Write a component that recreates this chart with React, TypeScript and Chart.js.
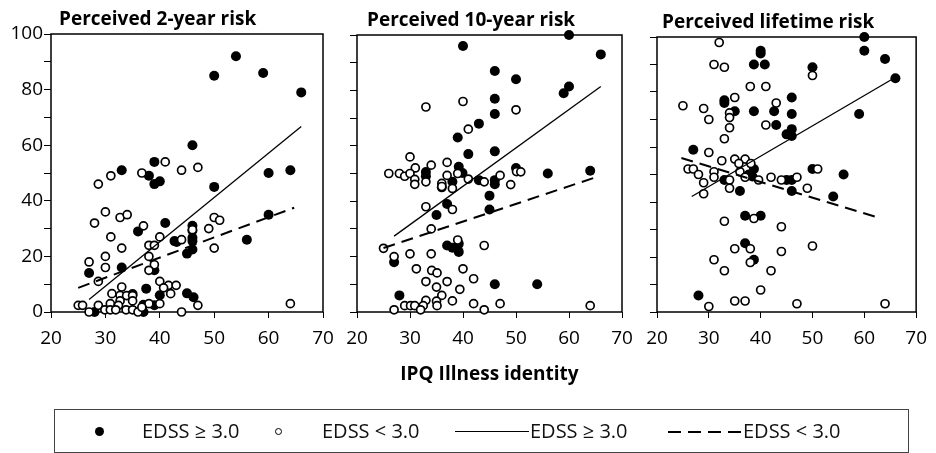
import React, { useEffect, useRef } from 'react';
import { Chart, registerables } from 'chart.js';

Chart.register(...registerables);

const W = 936;
const H = 453;
const FONT = '"Open Sans", "DejaVu Sans", sans-serif';

type Pt = [number, number];

// ---------- text ----------
const panelTitles = ['Perceived 2-year risk', 'Perceived 10-year risk', 'Perceived lifetime risk'];
const xAxisTitle = 'IPQ Illness identity';
const legendLabels = ['EDSS \u2265 3.0', 'EDSS < 3.0', 'EDSS \u2265 3.0', 'EDSS < 3.0'];

// ---------- axes ----------
const xMin = 20;
const xMax = 70;
const xStep = 10;
const yMin = 0;
const yMax = 100;
const yStep = 10;
const yLabelStep = 20;

// ---------- Panel 1: perceived 2-year risk ----------
const risk2yHigh: Pt[] = [
  [54, 92], [50, 85], [59, 86], [66, 79], [46, 60], [33, 51], [39, 54], [38, 49], [39, 46], [40, 47],
  [60, 50], [64, 51], [50, 45], [60, 35], [56, 26], [41, 32], [36, 29], [46, 31], [46, 29.3], [46, 26.7],
  [46, 25.5], [46, 22.5], [42.7, 25.5], [43.1, 25.2], [45, 21], [33, 16], [27, 14], [39, 15], [37.5, 8.4],
  [35, 6.5], [40, 6], [45, 6.7], [46.2, 5.3], [28, 0], [37, 2.6], [37, 0], [39, 2.4],
];
const risk2yLow: Pt[] = [
  [41, 54], [36.7, 50], [44, 51], [47, 52], [31, 49], [28.7, 46], [30, 36], [28, 32], [32.7, 34], [34, 35],
  [50, 34], [51, 33], [37, 31], [49, 30], [46, 29.6], [31, 27], [40, 27], [44, 26], [33, 23], [38, 24],
  [39, 24], [50, 23], [30, 20], [38, 20], [27, 18], [30, 16], [39, 17], [38, 15], [28.7, 11], [40, 11],
  [33, 9], [41.6, 9.6], [43, 9.6], [40.7, 8.7], [31.2, 6.6], [32.7, 6], [42, 6.6], [33.9, 5.9], [35, 5.9],
  [32.7, 4], [35, 4], [25, 2.4], [25.8, 2.4], [28.7, 2.4], [30.9, 3], [32.4, 2.4], [29.9, 0.8], [30.9, 0.8],
  [31.9, 0.8], [27, 0], [33.8, 0.8], [35, 0.8], [36, 0], [38, 3], [40, 3], [36.7, 1.7], [44, 0], [47, 2.4],
  [64, 3],
];
const risk2yFitHigh: Pt[] = [[27, 4.5], [66, 66.7]];
const risk2yFitLow: Pt[] = [[25, 8.7], [64.7, 37.5]];

// ---------- Panel 2: perceived 10-year risk ----------
const risk10yHigh: Pt[] = [
  [60, 100], [40, 96], [66, 93], [46, 87], [50, 84], [60, 81.4], [59, 79], [46, 77], [46, 71.5], [43, 68],
  [39, 63], [41, 57], [46, 58], [50, 52], [39.2, 52.4], [39.9, 50.2], [33, 50.5], [33, 49], [56, 50], [64, 51],
  [43, 47.6], [46, 47.6], [46, 46.1], [38, 47], [36, 45], [45, 42], [37, 39], [45, 37], [35, 35], [37, 24],
  [38, 23.2], [38.8, 23.2], [39.2, 24.6], [39.2, 21.7], [27, 18], [46, 10], [54, 10], [28, 6],
];
const risk10yLow: Pt[] = [
  [33, 74], [40, 76], [50, 73], [41, 66], [30, 56], [31, 52], [34, 53], [37, 54], [26, 50], [28, 50],
  [29, 49], [30, 50], [30.9, 47.9], [30.9, 46.1], [33, 47], [37, 49.3], [36, 46.4], [36, 45.3], [38, 44.6],
  [39, 50], [41, 48], [44, 47], [47, 49.3], [49, 46], [50.1, 50.7], [50.9, 50.6], [33, 38], [38, 37], [34, 30],
  [25, 23], [39, 26], [44, 24], [27, 20], [30, 21], [34, 21], [31.2, 15.6], [34.1, 15], [35.1, 14.1],
  [40, 15.6], [33, 11], [37, 11], [42, 12], [35, 9], [39.4, 8.2], [36, 6], [33, 4.2], [35, 3.9], [38, 4],
  [42, 3], [47, 3], [29, 2.3], [30.1, 2.3], [30.9, 2.3], [32.5, 2.3], [35.1, 2.3], [27, 0.8], [32, 0.8],
  [44, 0.8], [64, 2.3],
];
const risk10yFitHigh: Pt[] = [[27, 27.4], [66, 81.4]];
const risk10yFitLow: Pt[] = [[25, 23.1], [65, 48.6]];

// ---------- Panel 3: perceived lifetime risk ----------
const riskLifeHigh: Pt[] = [
  [60, 100], [60, 95], [64, 92], [66, 85], [40, 95], [40, 94], [38.7, 90], [40.8, 90], [50, 89], [33, 77],
  [33, 76], [35, 73], [38.7, 73], [42.6, 73], [46, 78], [46, 72], [43, 68], [46, 66.5], [46, 64], [45, 64.6],
  [59, 72], [27, 59], [38.7, 52], [37.7, 50], [38.4, 49.3], [50, 52], [56, 50], [33, 48], [45, 48], [46, 48],
  [46, 44], [36, 44], [54, 42], [37, 35], [40, 35], [37, 25], [38.7, 19], [28, 6],
];
const riskLifeLow: Pt[] = [
  [32, 98], [31, 90], [33, 89], [50, 86], [38, 82], [41, 82], [35, 78], [43, 76], [25, 75], [29, 74],
  [34, 72.4], [34, 70.7], [34, 67], [30, 70], [41, 68], [33, 63], [30, 58], [32.5, 55], [35, 55.6], [37, 55.6],
  [35.8, 54], [38.1, 54], [26, 52], [27, 52], [28, 50], [29, 47], [31, 51], [31, 49], [34, 48], [34, 45],
  [36, 51], [37, 49], [39.6, 48], [42, 49], [44, 48], [47, 49], [49, 45], [51, 52], [29, 43], [33, 33],
  [38.7, 34], [44, 31], [35, 23], [38, 23], [44, 22], [50, 24], [31, 19], [38, 18], [33, 15], [42, 15],
  [40, 8], [30, 2], [35, 4], [37, 4], [47, 3], [64, 3],
];
const riskLifeFitHigh: Pt[] = [[26.7, 42], [65.7, 85]];
const riskLifeFitLow: Pt[] = [[24.7, 56], [63.1, 34.1]];

// ---------- layout (pixels) ----------
type PanelCfg = {
  title: string;
  high: Pt[];
  low: Pt[];
  fitHigh: Pt[];
  fitLow: Pt[];
  showYLabels: boolean;
  showXTitle: boolean;
  area: { left: number; right: number; top: number; bottom: number };
  titleDx: number;
  titleBaseline: number;
};

const panels: PanelCfg[] = [
  {
    title: panelTitles[0], high: risk2yHigh, low: risk2yLow, fitHigh: risk2yFitHigh, fitLow: risk2yFitLow,
    showYLabels: true, showXTitle: false,
    area: { left: 51, right: 323, top: 34, bottom: 312 }, titleDx: 8, titleBaseline: 25,
  },
  {
    title: panelTitles[1], high: risk10yHigh, low: risk10yLow, fitHigh: risk10yFitHigh, fitLow: risk10yFitLow,
    showYLabels: false, showXTitle: true,
    area: { left: 357, right: 622, top: 35, bottom: 312 }, titleDx: 10, titleBaseline: 26,
  },
  {
    title: panelTitles[2], high: riskLifeHigh, low: riskLifeLow, fitHigh: riskLifeFitHigh, fitLow: riskLifeFitLow,
    showYLabels: false, showXTitle: false,
    area: { left: 657, right: 922, top: 37, bottom: 312 }, titleDx: 5, titleBaseline: 28,
  },
];

const toXY = (p: Pt[]) => p.map(([x, y]) => ({ x, y }));

function Panel({ cfg }: { cfg: PanelCfg }) {
  const ref = useRef<HTMLCanvasElement>(null);
  useEffect(() => {
    const canvas = ref.current;
    if (!canvas) return;
    const a = cfg.area;
    const WY = cfg.showYLabels ? 45 : 10;
    const HX = 80;

    const boxPlugin = {
      id: 'panelBox',
      beforeDatasetsDraw(chart: any) {
        const { ctx, chartArea: ca } = chart;
        ctx.save();
        ctx.strokeStyle = '#000';
        ctx.lineWidth = 1.5;
        ctx.strokeRect(ca.left, ca.top, ca.right - ca.left, ca.bottom - ca.top);
        ctx.restore();
      },
    };
    const titlePlugin = {
      id: 'panelTitle',
      afterDraw(chart: any) {
        const { ctx, chartArea: ca } = chart;
        ctx.save();
        ctx.font = `bold 19px ${FONT}`;
        ctx.fillStyle = '#000';
        ctx.textAlign = 'left';
        ctx.textBaseline = 'alphabetic';
        ctx.fillText(cfg.title, ca.left + cfg.titleDx, cfg.titleBaseline);
        ctx.restore();
      },
    };

    const chart = new Chart(canvas, {
      type: 'scatter',
      data: {
        datasets: [
          {
            type: 'line', label: 'EDSS \u2265 3.0 (fit)', data: toXY(cfg.fitHigh),
            borderColor: '#000', borderWidth: 1.3, pointRadius: 0, fill: false, clip: false,
          } as any,
          {
            type: 'line', label: 'EDSS < 3.0 (fit)', data: toXY(cfg.fitLow),
            borderColor: '#000', borderWidth: 2, borderDash: [12, 7], pointRadius: 0, fill: false, clip: false,
          } as any,
          {
            label: legendLabels[1], data: toXY(cfg.low),
            pointRadius: 4, pointBorderWidth: 1.7, pointBackgroundColor: '#fff', pointBorderColor: '#000',
            backgroundColor: '#fff', borderColor: '#000', clip: false,
          } as any,
          {
            label: legendLabels[0], data: toXY(cfg.high),
            pointRadius: 5, pointBorderWidth: 0, pointBackgroundColor: '#000', pointBorderColor: '#000',
            backgroundColor: '#000', borderColor: '#000', clip: false,
          } as any,
        ],
      },
      options: {
        responsive: false,
        animation: false,
        devicePixelRatio: 1,
        events: [],
        layout: {
          padding: { left: a.left - WY, right: W - a.right, top: a.top, bottom: H - a.bottom - HX },
        },
        plugins: { legend: { display: false }, tooltip: { enabled: false }, title: { display: false } },
        scales: {
          x: {
            type: 'linear', min: xMin, max: xMax,
            afterFit: (s: any) => { s.height = HX; },
            ticks: {
              stepSize: xStep, color: '#000', font: { family: FONT, size: 19 }, padding: 9,
              maxRotation: 0, autoSkip: false,
            },
            grid: { drawOnChartArea: false, drawTicks: true, tickLength: 6, color: '#000', lineWidth: 1 },
            border: { display: false },
            title: {
              display: cfg.showXTitle, text: xAxisTitle, color: '#000',
              font: { family: FONT, size: 19, weight: 'bold' }, padding: { top: 0, bottom: 6 },
            },
          },
          y: {
            type: 'linear', min: yMin, max: yMax,
            afterFit: (s: any) => { s.width = WY; },
            ticks: {
              stepSize: yStep, color: '#000', font: { family: FONT, size: 19 }, padding: 1, autoSkip: false,
              callback: (v: any) => (cfg.showYLabels && Number(v) % yLabelStep === 0 ? String(v) : ''),
            },
            grid: { drawOnChartArea: false, drawTicks: true, tickLength: 7, color: '#000', lineWidth: 1 },
            border: { display: false },
          },
        },
      } as any,
      plugins: [boxPlugin, titlePlugin],
    });
    return () => chart.destroy();
  }, [cfg]);
  return (
    <canvas
      ref={ref}
      width={W}
      height={H}
      style={{ position: 'absolute', left: 0, top: 0, width: W, height: H, pointerEvents: 'none' }}
    />
  );
}

const textStyle = (left: number): React.CSSProperties => ({
  position: 'absolute', left, top: 421, fontSize: 20, lineHeight: '20px', whiteSpace: 'nowrap',
  color: '#111', fontFamily: FONT,
});

export default function App() {
  return (
    <div style={{ position: 'absolute', left: 0, top: 0, width: W, height: H, background: '#fff', overflow: 'hidden', fontFamily: FONT }}>
      {panels.map((p, i) => <Panel key={i} cfg={p} />)}
      <div style={{ position: 'absolute', left: 54, top: 409, width: 855, height: 44, boxSizing: 'border-box', border: '1px solid #444' }} />
      <div style={{ position: 'absolute', left: 94.5, top: 426.5, width: 9, height: 9, borderRadius: '50%', background: '#000' }} />
      <span style={textStyle(142)}>{legendLabels[0]}</span>
      <div style={{ position: 'absolute', left: 274.5, top: 427.5, width: 7, height: 7, borderRadius: '50%', border: '1.5px solid #000', boxSizing: 'border-box', background: '#fff' }} />
      <span style={textStyle(322)}>{legendLabels[1]}</span>
      <div style={{ position: 'absolute', left: 455, top: 431, width: 74, height: 1.3, background: '#000' }} />
      <span style={textStyle(530)}>{legendLabels[2]}</span>
      <div style={{ position: 'absolute', left: 668, top: 430.5, width: 74, height: 2, background: 'repeating-linear-gradient(to right, #000 0 13px, transparent 13px 20px)' }} />
      <span style={textStyle(743)}>{legendLabels[3]}</span>
    </div>
  );
}
